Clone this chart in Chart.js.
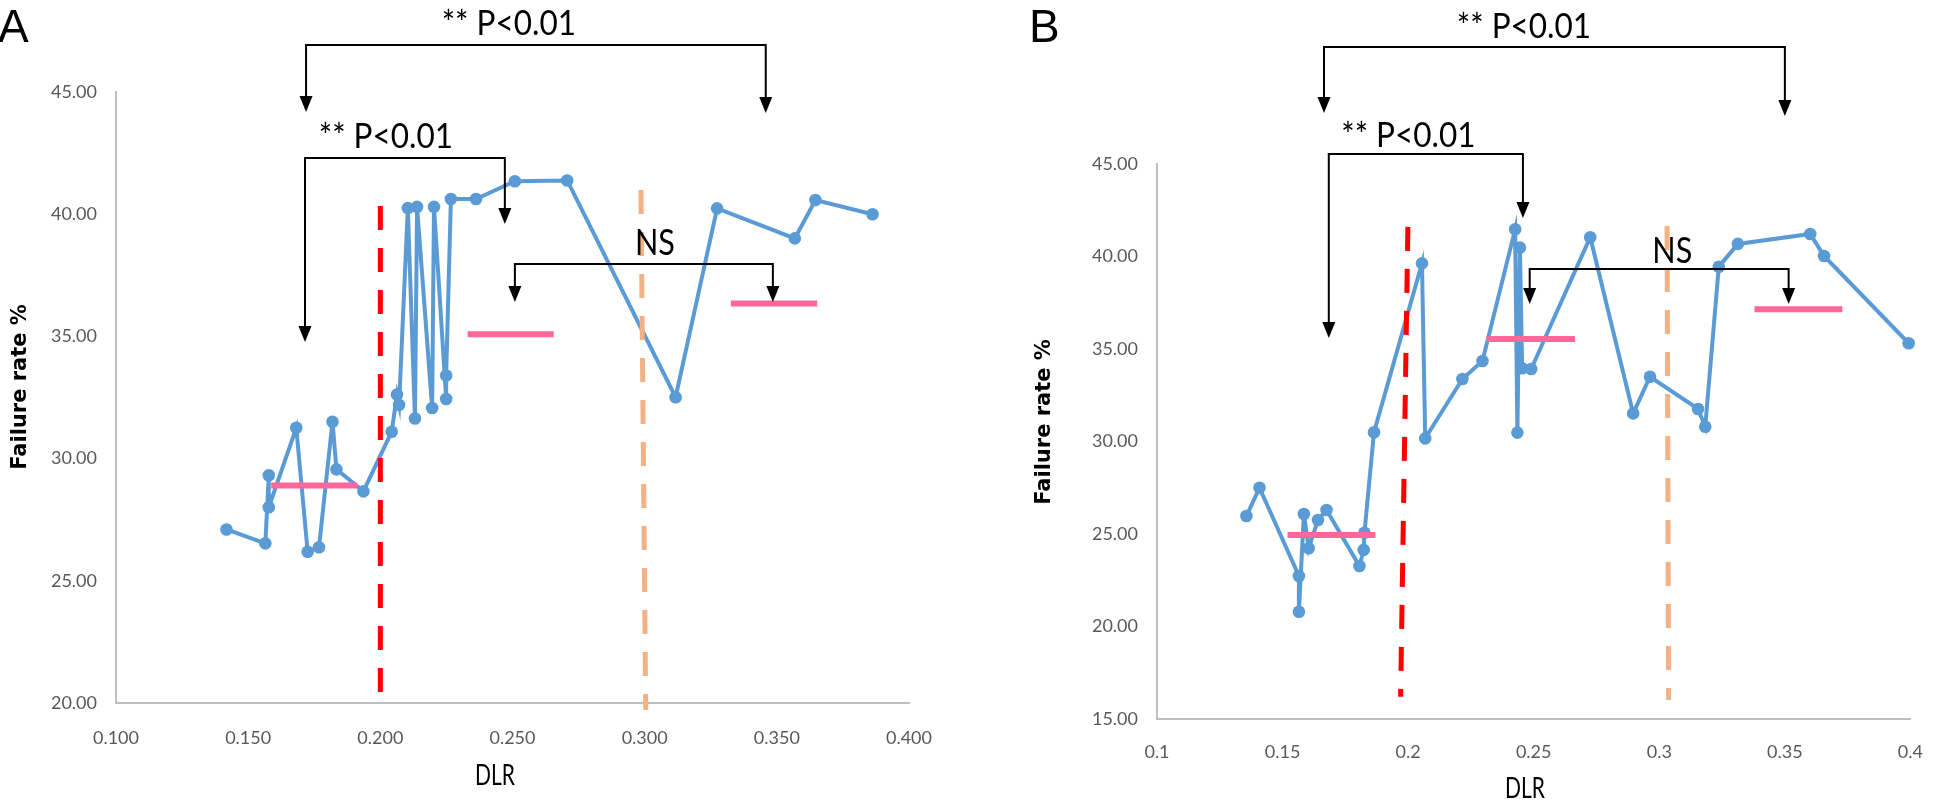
<!DOCTYPE html>
<html>
<head>
<meta charset="utf-8">
<title>Failure rate vs DLR</title>
<script src="https://cdn.jsdelivr.net/npm/chart.js@4.4.1/dist/chart.umd.min.js"></script>
<style>
  html, body { margin: 0; padding: 0; background: #fff; }
  body { width: 1945px; height: 801px; position: relative; overflow: hidden; }
  canvas { position: absolute; top: 0; }
  #chart-a { left: 0; }
  #chart-b { left: 985px; }
</style>
</head>
<body>
<canvas id="chart-a" width="960" height="801"></canvas>
<canvas id="chart-b" width="960" height="801"></canvas>
<script>
// --- Panel A data ---
const dlrA = [0.1418, 0.1565, 0.1578, 0.1578, 0.1682, 0.1725, 0.1768, 0.1819, 0.1834, 0.1936,
  0.2043, 0.2063, 0.2071, 0.2104, 0.2131, 0.2139, 0.2196, 0.2203, 0.2249, 0.2249,
  0.2267, 0.2362, 0.2509, 0.2707, 0.3117, 0.3274, 0.3568, 0.3646, 0.3862];
const failA = [27.10, 26.53, 29.32, 28.01, 31.26, 26.19, 26.37, 31.51, 29.56, 28.66,
  31.10, 32.62, 32.20, 40.25, 31.64, 40.30, 32.07, 40.30, 32.44, 33.40,
  40.62, 40.62, 41.35, 41.38, 32.51, 40.24, 39.01, 40.58, 40.00];
// group means (pink bars): [from, to, value]
const meansA = [[0.1587, 0.1912, 28.90], [0.2330, 0.2656, 35.09], [0.3326, 0.3653, 36.35]];
// cut-off lines: [xTop, yTop, xBottom, yBottom]
const redCutA = [0.2000, 40.34, 0.2000, 19.84];
const orangeCutA = [0.2986, 40.99, 0.3004, 19.71];
const xTicksA = [0.1, 0.15, 0.2, 0.25, 0.3, 0.35, 0.4];
const yTicksA = [20, 25, 30, 35, 40, 45];
// brackets: [x1, x2, barY, tip1, tip2, labelX, label, labelGap]
const bracketsA = [
  [0.1719, 0.3458, 46.92, 44.18, 44.14, 0.2486, '** P<0.01', 10],
  [0.1715, 0.2471, 42.30, 34.77, 39.60, 0.2021, '** P<0.01', 10],
  [0.2509, 0.3485, 37.96, 36.41, 36.41, 0.3039, 'NS', 9],
];

// --- Panel B data ---
const dlrB = [0.1356, 0.1408, 0.1565, 0.1565, 0.1585, 0.1604, 0.1641, 0.1675, 0.1806, 0.1823,
  0.1826, 0.1864, 0.2055, 0.2068, 0.2216, 0.2296, 0.2426, 0.2435, 0.2445, 0.2454,
  0.2490, 0.2725, 0.2896, 0.2963, 0.3154, 0.3183, 0.3237, 0.3313, 0.3601, 0.3656, 0.3993];
const failB = [25.97, 27.50, 22.73, 20.80, 26.08, 24.23, 25.76, 26.30, 23.27, 24.14,
  25.07, 30.50, 39.63, 30.17, 33.38, 34.35, 41.47, 30.48, 40.48, 33.96,
  33.92, 41.04, 31.52, 33.50, 31.76, 30.80, 39.45, 40.68, 41.22, 40.03, 35.31];
const meansB = [[0.1520, 0.1870, 24.95], [0.2312, 0.2664, 35.54], [0.3379, 0.3729, 37.15]];
const redCutB = [0.1999, 41.60, 0.1970, 16.20];
const orangeCutB = [0.3031, 41.65, 0.3037, 16.03];
const xTicksB = [0.1, 0.15, 0.2, 0.25, 0.3, 0.35, 0.4];
const yTicksB = [15, 20, 25, 30, 35, 40, 45];
const bracketsB = [
  [0.1665, 0.3500, 51.32, 47.76, 47.60, 0.2461, '** P<0.01', 9],
  [0.1684, 0.2457, 45.54, 35.59, 42.08, 0.2001, '** P<0.01', 7],
  [0.2484, 0.3515, 39.32, 37.43, 37.43, 0.3052, 'NS', 6],
];

const BLUE = '#5B9BD5';
const PINK = '#FF6699';
const TICK_GREY = '#595959';

// --- Helpers ---
function toPoints(xs, ys) {
  return xs.map((x, i) => ({ x, y: ys[i] }));
}

function cutLine(c, color) {
  return {
    data: [{ x: c[0], y: c[1] }, { x: c[2], y: c[3] }],
    borderColor: color,
    borderWidth: 5,
    borderDash: [24, 18],
    borderCapStyle: 'butt',
    pointRadius: 0,
    clip: false,
    order: 2,
  };
}

function meanLines(means) {
  return means.map(m => ({
    data: [{ x: m[0], y: m[2] }, { x: m[1], y: m[2] }],
    borderColor: PINK,
    borderWidth: 6,
    borderCapStyle: 'butt',
    pointRadius: 0,
    clip: false,
    order: 1,
  }));
}

function drawText(ctx, text, x, y, font, align, squeeze, rotate) {
  ctx.save();
  ctx.translate(x, y);
  if (rotate) ctx.rotate(rotate);
  ctx.scale(squeeze || 1, 1);
  ctx.font = font;
  ctx.textAlign = align;
  ctx.fillText(text, 0, 0);
  ctx.restore();
}

function arrowHead(ctx, x, tipY) {
  ctx.beginPath();
  ctx.moveTo(x, tipY);
  ctx.lineTo(x - 6.5, tipY - 16);
  ctx.lineTo(x + 6.5, tipY - 16);
  ctx.closePath();
  ctx.fill();
}

// --- Annotations: brackets, panel letter, axis titles ---
const panelMarks = {
  id: 'panelMarks',
  afterDraw(chart, args, opts) {
    const ctx = chart.ctx;
    const xs = chart.scales.x, ys = chart.scales.y;
    ctx.save();
    ctx.strokeStyle = '#000';
    ctx.fillStyle = '#000';
    ctx.lineWidth = 2;

    opts.brackets.forEach(b => {
      const x1 = xs.getPixelForValue(b[0]);
      const x2 = xs.getPixelForValue(b[1]);
      const yb = ys.getPixelForValue(b[2]);
      const t1 = ys.getPixelForValue(b[3]);
      const t2 = ys.getPixelForValue(b[4]);
      ctx.beginPath();
      ctx.moveTo(x1, t1 - 14);
      ctx.lineTo(x1, yb);
      ctx.lineTo(x2, yb);
      ctx.lineTo(x2, t2 - 14);
      ctx.stroke();
      arrowHead(ctx, x1, t1);
      arrowHead(ctx, x2, t2);
      const ns = b[6] === 'NS';
      drawText(ctx, b[6], xs.getPixelForValue(b[5]), yb - b[7], ns ? '36px Lato' : '35px Lato', 'center', ns ? 0.85 : 0.9);
    });

    // panel letter
    drawText(ctx, opts.letter[0], opts.letter[1], opts.letter[2], '46px "Liberation Sans", Arial, sans-serif', 'left');

    // axis titles
    ctx.textBaseline = 'middle';
    drawText(ctx, 'Failure rate %', opts.yTitle[0], opts.yTitle[1], 'bold 21px "DejaVu Sans", sans-serif', 'center', 1, -Math.PI / 2);
    ctx.textBaseline = 'alphabetic';
    drawText(ctx, 'DLR', opts.xTitle[0], opts.xTitle[1], '28px Lato', 'center', 0.75);
    ctx.restore();
  }
};

function buildChart(id, cfg) {
  return new Chart(document.getElementById(id), {
    type: 'line',
    data: {
      datasets: [
        {
          data: toPoints(cfg.xs, cfg.ys),
          borderColor: BLUE,
          backgroundColor: BLUE,
          borderWidth: 4,
          pointRadius: 6.3,
          pointBorderWidth: 0,
          pointBackgroundColor: BLUE,
          tension: 0,
          clip: false,
          order: 3,
        },
        cutLine(cfg.red, '#FF0000'),
        cutLine(cfg.orange, '#F4B183'),
        ...meanLines(cfg.means),
      ],
    },
    options: {
      responsive: false,
      animation: false,
      events: [],
      layout: { autoPadding: false, padding: cfg.padding },
      plugins: {
        legend: { display: false },
        tooltip: { enabled: false },
        panelMarks: { brackets: cfg.brackets, letter: cfg.letter, yTitle: cfg.yTitle, xTitle: cfg.xTitle },
      },
      scales: {
        x: {
          type: 'linear',
          min: cfg.xTicks[0],
          max: cfg.xTicks[cfg.xTicks.length - 1],
          afterBuildTicks: s => { s.ticks = cfg.xTicks.map(v => ({ value: v })); },
          afterFit: s => { s.height = cfg.xHeight; },
          grid: { display: false, drawTicks: false },
          border: { display: true, color: '#BFBFBF', width: 2 },
          ticks: {
            padding: cfg.xPad,
            color: TICK_GREY,
            font: { family: 'Lato', size: 18 },
            maxRotation: 0,
            callback: cfg.xFormat,
          },
        },
        y: {
          type: 'linear',
          min: cfg.yTicks[0],
          max: cfg.yTicks[cfg.yTicks.length - 1],
          afterBuildTicks: s => { s.ticks = cfg.yTicks.map(v => ({ value: v })); },
          afterFit: s => { s.width = cfg.yWidth; },
          grid: { display: false, drawTicks: false },
          border: { display: true, color: '#BFBFBF', width: 2 },
          ticks: {
            padding: 19,
            color: TICK_GREY,
            font: { family: 'Lato', size: 18 },
            callback: v => v.toFixed(2),
          },
        },
      },
    },
    plugins: [panelMarks],
  });
}

buildChart('chart-a', {
  xs: dlrA, ys: failA, means: meansA, red: redCutA, orange: orangeCutA,
  xTicks: xTicksA, yTicks: yTicksA, brackets: bracketsA,
  padding: { top: 92, right: 51, bottom: 0, left: 0 },
  yWidth: 116, xHeight: 98, xPad: 24,
  xFormat: v => v.toFixed(3),
  letter: ['A', -2, 42], yTitle: [21, 387], xTitle: [495, 785],
});

buildChart('chart-b', {
  xs: dlrB, ys: failB, means: meansB, red: redCutB, orange: orangeCutB,
  xTicks: xTicksB, yTicks: yTicksB, brackets: bracketsB,
  padding: { top: 164, right: 12, bottom: 0, left: 0 },
  yWidth: 172, xHeight: 82, xPad: 22,
  xFormat: v => String(+v.toFixed(2)),
  letter: ['B', 44, 42], yTitle: [60, 422], xTitle: [540, 798],
});
</script>
</body>
</html>
